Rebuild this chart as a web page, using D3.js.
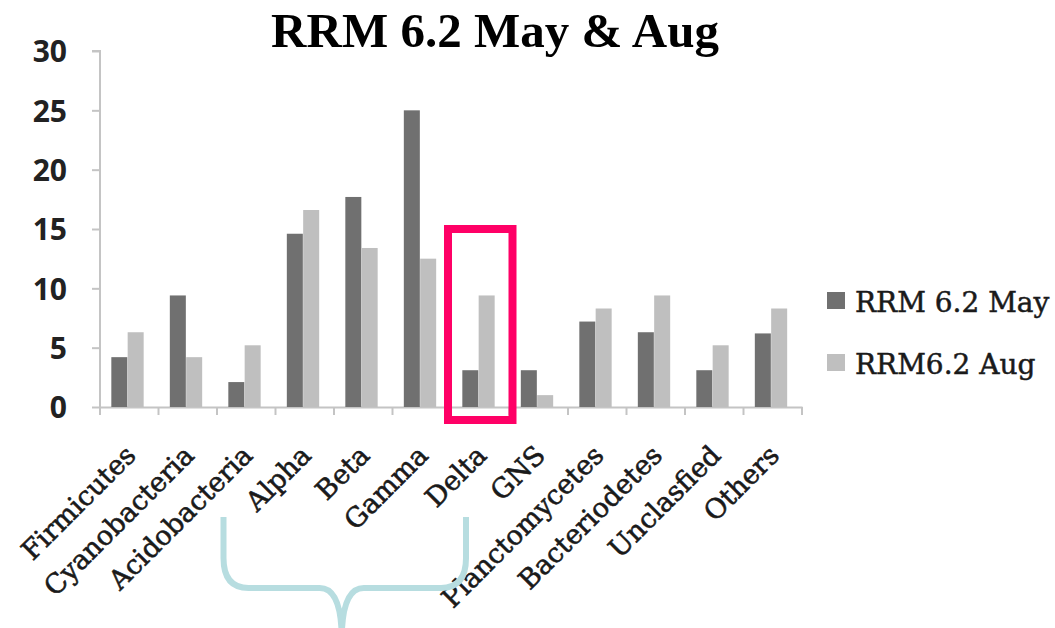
<!DOCTYPE html>
<html>
<head>
<meta charset="utf-8">
<script src="https://cdn.jsdelivr.net/npm/d3@7"></script>
<style>
  html, body { margin: 0; padding: 0; background: #fff; }
  svg { display: block; }
</style>
</head>
<body>
<svg id="chart" width="1055" height="628"></svg>
<script>
// Bacterial groups and their relative abundance (%) at RRM 6.2
const categories = ["Firmicutes", "Cyanobacteria", "Acidobacteria", "Alpha", "Beta", "Gamma",
                    "Delta", "GNS", "Planctomycetes", "Bacteriodetes", "Unclasfied", "Others"];
const seriesNames = ["RRM 6.2 May", "RRM6.2 Aug"];
const mayValues = [4.2, 9.4, 2.1, 14.6, 17.7, 25.0, 3.1, 3.1, 7.2, 6.3, 3.1, 6.2];
const augValues = [6.3, 4.2, 5.2, 16.6, 13.4, 12.5, 9.4, 1.0, 8.3, 9.4, 5.2, 8.3];
const yTicks = [0, 5, 10, 15, 20, 25, 30];
const titleText = "RRM 6.2 May & Aug";

const colors = ["#707070", "#bfbfbf"];
const series = [mayValues, augValues];

const svg = d3.select("#chart");

const plot = { left: 100, right: 802, top: 51, bottom: 407 };

const x = d3.scaleBand().domain(categories).range([plot.left, plot.right]).paddingInner(0).paddingOuter(0);
const y = d3.scaleLinear().domain([0, 30]).range([plot.bottom, plot.top]);
const xs = d3.scaleBand().domain(d3.range(series.length)).range([11, 11 + 33]).padding(0.02);

// Title
svg.append("text")
  .attr("x", 495).attr("y", 47)
  .attr("text-anchor", "middle")
  .attr("font-family", "'Liberation Serif', 'Times New Roman', serif")
  .attr("font-weight", "bold")
  .attr("font-size", 49)
  .attr("fill", "#000")
  .text(titleText);

// Y axis
const yAxis = d3.axisLeft(y).tickValues(yTicks).tickSize(8).tickPadding(25);
const gy = svg.append("g").attr("transform", `translate(${plot.left},0)`).call(yAxis);
gy.select(".domain").attr("stroke", "#c4c4c4").attr("stroke-width", 2)
  .attr("d", `M-8,${y(30)}H0V${y(0) + 8}`);
gy.selectAll(".tick line").attr("stroke", "#c4c4c4").attr("stroke-width", 2);
gy.selectAll(".tick text")
  .attr("font-family", "'Open Sans', sans-serif")
  .attr("font-weight", 700)
  .attr("font-size", 30)
  .attr("fill", "#222")
  .attr("dy", "0.36em");

// X axis
const xAxis = d3.axisBottom(x).tickSizeOuter(0).tickSize(0).tickFormat("");
const gx = svg.append("g").attr("transform", `translate(0,${plot.bottom})`).call(xAxis);
gx.select(".domain").attr("stroke", "#c4c4c4").attr("stroke-width", 2);
// category separators
gx.selectAll(".sep")
  .data(categories.slice(1).concat(["_end"]))
  .enter().append("line")
  .attr("x1", (d, i) => plot.left + x.step() * (i + 1))
  .attr("x2", (d, i) => plot.left + x.step() * (i + 1))
  .attr("y1", 0).attr("y2", 8)
  .attr("stroke", "#c4c4c4").attr("stroke-width", 2);

// Bars
categories.forEach((cat, ci) => {
  series.forEach((vals, si) => {
    svg.append("rect")
      .attr("x", x(cat) + xs(si))
      .attr("y", y(vals[ci]))
      .attr("width", xs.bandwidth())
      .attr("height", y(0) - y(vals[ci]))
      .attr("fill", colors[si]);
  });
});

// Category labels
svg.append("g").selectAll("text")
  .data(categories)
  .enter().append("text")
  .attr("transform", d => `translate(${x(d) + x.bandwidth() / 2 + 8},${plot.bottom + 50}) rotate(-45)`)
  .attr("text-anchor", "end")
  .attr("font-family", "'DejaVu Serif', serif")
  .attr("font-size", 27)
  .attr("fill", "#1a1a1a")
  .attr("stroke", "#1a1a1a")
  .attr("stroke-width", 0.6)
  .text(d => d);

// Legend
const legend = svg.append("g");
seriesNames.forEach((name, i) => {
  const ly = 300 + i * 62;
  legend.append("rect")
    .attr("x", 827).attr("y", ly - 8).attr("width", 18).attr("height", 17)
    .attr("fill", colors[i]);
  legend.append("text")
    .attr("x", 855).attr("y", ly + 12)
    .attr("font-family", "'DejaVu Serif', serif")
    .attr("font-size", 28)
    .attr("fill", "#1a1a1a")
    .attr("stroke", "#1a1a1a")
    .attr("stroke-width", 0.5)
    .text(name);
});

// Highlight box around Delta
svg.append("rect")
  .attr("x", x("Delta") - 3)
  .attr("y", y(15))
  .attr("width", x.bandwidth() + 6)
  .attr("height", y(0) + 13 - y(15))
  .attr("fill", "none")
  .attr("stroke", "#ff0066")
  .attr("stroke-width", 8);

// Brace under the Proteobacteria classes (Alpha–Delta)
const bl = x("Alpha") - 52, br = x("Delta") + 15;
const bt = 517, bh = 588, bb = 640, bm = (bl + br) / 2 - 3;
const brace = d3.path();
brace.moveTo(bl, bt);
brace.lineTo(bl, bh - 30);
brace.quadraticCurveTo(bl, bh, bl + 25, bh);
brace.lineTo(bm - 22, bh);
brace.quadraticCurveTo(bm, bh, bm, bb);
brace.moveTo(br, bt);
brace.lineTo(br, bh - 30);
brace.quadraticCurveTo(br, bh, br - 25, bh);
brace.lineTo(bm + 22, bh);
brace.quadraticCurveTo(bm, bh, bm, bb);
svg.append("path")
  .attr("d", brace.toString())
  .attr("fill", "none")
  .attr("stroke", "#b7dde0")
  .attr("stroke-width", 6);
</script>
</body>
</html>
